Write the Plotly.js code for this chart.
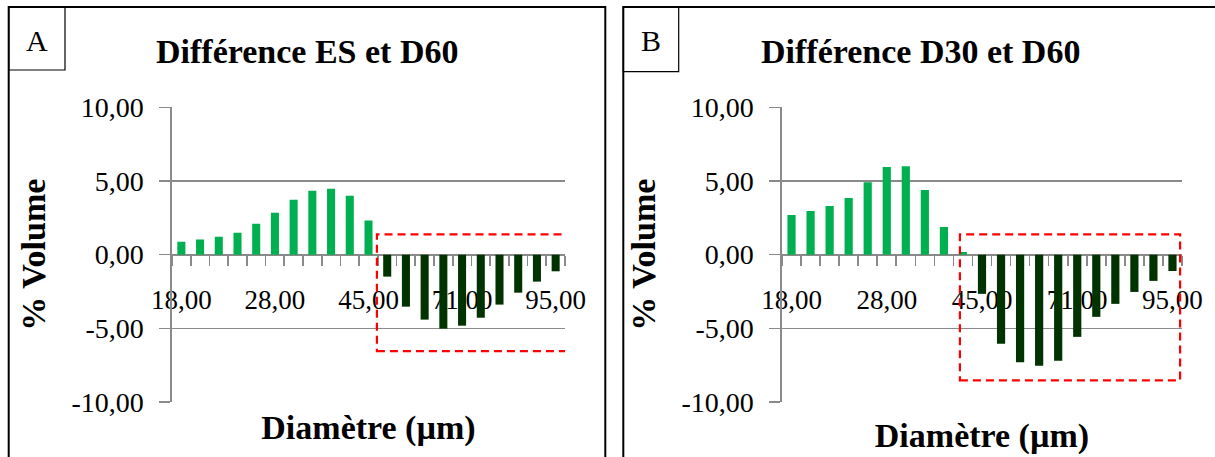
<!DOCTYPE html>
<html><head><meta charset="utf-8">
<script src="https://cdn.plot.ly/plotly-3.0.1.min.js"></script>
<style>html,body{margin:0;padding:0;background:#fff}#chart{width:1215px;height:457px}</style>
</head><body><div id="chart"></div><script>
// ---- data ----
const diametres = [18,20,22,24,26,28,31,34,37,41,45,50,55,60,66,71,76,81,86,90,95];
const categories = diametres.map(d => d.toFixed(2).replace('.', ','));
const xTickLabels = ["18,00","","","","","28,00","","","","","45,00","","","","","71,00","","","","","95,00"];
const diffES_D60 = [0.88,1.02,1.22,1.49,2.10,2.85,3.73,4.34,4.48,4.00,2.31,-1.49,-3.53,-4.41,-5.02,-4.82,-4.28,-3.39,-2.58,-1.83,-1.13];
const diffD30_D60 = [2.69,2.96,3.30,3.84,4.92,5.94,6.00,4.38,1.87,0.18,-2.66,-6.05,-7.31,-7.54,-7.20,-5.58,-4.22,-3.34,-2.53,-1.78,-1.11];
const yTickVals = [-10,-5,0,5,10];
const yTickLabels = ["-10,00","-5,00","0,00","5,00","10,00"];
const panelTitles = ["Différence ES et D60","Différence D30 et D60"];
const panelLetters = ["A","B"];
const xTitle = "Diamètre (µm)";
const yTitle = "% Volume";

// ---- style ----
const W = 1215, H = 457;
const FONT = "Liberation Serif";
const GRAY = "#8a8a8a";
const POS = "#00B050", NEG = "#003300";
const px = v => v / W, py = v => (H - v) / H;
const yDom = [py(402), py(107.3)];
const yMid = (yDom[0] + yDom[1]) / 2;
const colorsFor = vals => vals.map(v => v >= 0 ? POS : NEG);

function xAxis(domain, standoff) {
  return {
    domain: domain, anchor: 'free', position: yMid, type: 'category',
    range: [-0.5, categories.length - 0.5],
    tickmode: 'array', tickvals: categories, ticktext: xTickLabels,
    tickson: 'boundaries', ticks: 'outside', ticklen: 10, tickwidth: 1.6, tickcolor: GRAY,
    showline: true, linecolor: GRAY, linewidth: 1.6, showgrid: false, zeroline: false,
    ticklabelstandoff: 20, tickangle: 0,
    tickfont: {family: FONT, size: 27, color: '#000'},
    layer: 'below traces',
    title: {text: xTitle, standoff: standoff, font: {family: FONT, size: 34, color: '#000', weight: 700}}
  };
}
function yAxis(anchor) {
  return {
    domain: yDom, anchor: anchor, range: [-10, 10],
    tickmode: 'array', tickvals: yTickVals, ticktext: yTickLabels,
    ticks: 'outside', ticklen: 11, tickwidth: 1.6, tickcolor: GRAY,
    showgrid: true, gridcolor: GRAY, gridwidth: 1.6, zeroline: false,
    showline: true, linecolor: GRAY, linewidth: 1.6,
    ticklabelstandoff: 10,
    tickfont: {family: FONT, size: 28, color: '#000'},
    title: {text: yTitle, standoff: 15, font: {family: FONT, size: 34, color: '#000', weight: 700}}
  };
}

const data = [
  {type: 'bar', x: categories, y: diffES_D60, xaxis: 'x', yaxis: 'y',
   marker: {color: colorsFor(diffES_D60)}, hoverinfo: 'skip'},
  {type: 'bar', x: categories, y: diffD30_D60, xaxis: 'x2', yaxis: 'y2',
   marker: {color: colorsFor(diffD30_D60)}, hoverinfo: 'skip'}
];

const border = {color: '#000', width: 2};
const layout = {
  width: W, height: H, margin: {l: 0, r: 0, t: 0, b: 0},
  paper_bgcolor: '#fff', plot_bgcolor: 'rgba(0,0,0,0)',
  showlegend: false, bargap: 0.57, hovermode: false,
  font: {family: FONT, color: '#000'},
  xaxis: xAxis([px(172), px(565)], 101),
  yaxis: yAxis('x'),
  xaxis2: xAxis([px(782), px(1182)], 109),
  yaxis2: yAxis('x2'),
  shapes: [
    // panel frames
    {type: 'rect', xref: 'paper', yref: 'paper', x0: px(8.7), x1: px(605.3), y0: -0.1, y1: py(7), line: border},
    {type: 'rect', xref: 'paper', yref: 'paper', x0: px(623.3), x1: 1.05, y0: -0.1, y1: py(7), line: border},
    // letter boxes
    {type: 'rect', xref: 'paper', yref: 'paper', x0: px(8.7), x1: px(65), y0: py(70), y1: py(7), line: {color: '#000', width: 1.2}},
    {type: 'rect', xref: 'paper', yref: 'paper', x0: px(623.3), x1: px(678.7), y0: py(71.7), y1: py(7), line: {color: '#000', width: 1.2}},
    // red dashed highlight boxes
    {type: 'rect', xref: 'x', yref: 'y', x0: 10.45, x1: 20.6, y0: -6.55, y1: 1.37, line: {color: '#ff0000', width: 2.2, dash: '8px,5px'}},
    {type: 'rect', xref: 'x2', yref: 'y2', x0: 8.84, x1: 20.4, y0: -8.53, y1: 1.37, line: {color: '#ff0000', width: 2.2, dash: '8px,5px'}}
  ],
  annotations: [
    {xref: 'paper', yref: 'paper', x: px(306.5), y: py(52), text: panelTitles[0], showarrow: false, xanchor: 'center', yanchor: 'middle',
     font: {family: FONT, size: 34, color: '#000', weight: 700}},
    {xref: 'paper', yref: 'paper', x: px(920), y: py(52), text: panelTitles[1], showarrow: false, xanchor: 'center', yanchor: 'middle',
     font: {family: FONT, size: 34, color: '#000', weight: 700}},
    {xref: 'paper', yref: 'paper', x: px(37), y: py(40), text: panelLetters[0], showarrow: false, xanchor: 'center', yanchor: 'middle',
     font: {family: FONT, size: 30, color: '#000'}},
    {xref: 'paper', yref: 'paper', x: px(650.5), y: py(40), text: panelLetters[1], showarrow: false, xanchor: 'center', yanchor: 'middle',
     font: {family: FONT, size: 30, color: '#000'}}
  ]
};

Plotly.newPlot('chart', data, layout, {staticPlot: true, displayModeBar: false});
</script></body></html>
